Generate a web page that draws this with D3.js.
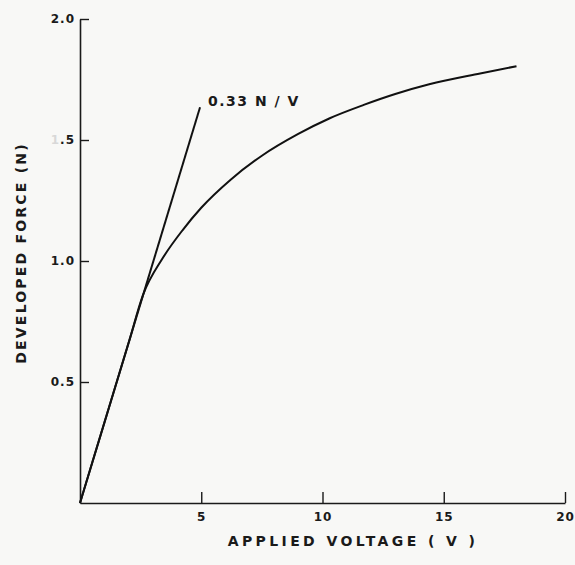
<html>
<head>
<script src="https://cdn.jsdelivr.net/npm/d3@7/dist/d3.min.js"></script>
<style>
  body { margin: 0; background: #f8f8f6; }
  svg { display: block; }
  .lbl { font-family: "DejaVu Sans", sans-serif; font-weight: bold; fill: #1a1a1a; }
</style>
</head>
<body>
<svg></svg>
<script>
// applied voltage (V) vs developed force (N)
var voltage = [0, 1, 2, 2.6, 3.4, 4.25, 5, 6.2, 7.5, 9, 10.3, 11.7, 13, 14.4, 16.5, 18];
var force   = [0, 0.33, 0.66, 0.86, 1.01, 1.13, 1.22, 1.335, 1.435, 1.525, 1.59, 1.645, 1.69, 1.73, 1.775, 1.805];

// tangent of the initial slope
var slopeV = [0, 4.95];
var slopeF = [0, 1.635];
var slopeLabel = "0.33 N / V";

var xTicks = [5, 10, 15, 20];
var yTicks = [0.5, 1.0, 1.5, 2.0];
var yTickLabels = ["0.5", "1.0", "1.5", "2.0"];

var W = 575, H = 565;
var svg = d3.select("svg").attr("width", W).attr("height", H);

var x = d3.scaleLinear().domain([0, 20]).range([80, 565]);
var y = d3.scaleLinear().domain([0, 2]).range([503, 19]);

// axes (ticks point inward)
var gx = svg.append("g").attr("transform", "translate(0," + y(0) + ")")
  .call(d3.axisBottom(x).tickValues(xTicks).tickSize(-11).tickSizeOuter(0).tickPadding(9));
var gy = svg.append("g").attr("transform", "translate(" + x(0) + ",0)")
  .call(d3.axisLeft(y).tickValues(yTicks).tickSize(-9).tickSizeOuter(0).tickPadding(5)
    .tickFormat(function(d, i){ return yTickLabels[i]; }));

[gx, gy].forEach(function(g){
  g.select(".domain").attr("stroke", "#1a1a1a").attr("stroke-width", 1.6);
  g.selectAll(".tick line").attr("stroke", "#1a1a1a").attr("stroke-width", 1.4);
  g.selectAll(".tick text").attr("class", "lbl").attr("font-size", 12)
    .attr("letter-spacing", 1).attr("fill", "#1a1a1a");
});
// the "1" of 1.5 is nearly washed out in the original
gy.selectAll(".tick text").filter(function(d){ return d === 1.5; })
  .text(null).call(function(t){
    t.append("tspan").attr("fill", "#d8d8d8").text("1");
    t.append("tspan").text(".5");
  });

// curve
var line = d3.line()
  .x(function(d){ return x(d[0]); })
  .y(function(d){ return y(d[1]); })
  .curve(d3.curveMonotoneX);

svg.append("path")
  .datum(d3.zip(voltage, force))
  .attr("d", line)
  .attr("fill", "none").attr("stroke", "#111").attr("stroke-width", 2);

svg.append("path")
  .datum(d3.zip(slopeV, slopeF))
  .attr("d", d3.line().x(function(d){ return x(d[0]); }).y(function(d){ return y(d[1]); }))
  .attr("fill", "none").attr("stroke", "#111").attr("stroke-width", 2);

svg.append("text").attr("class", "lbl")
  .attr("x", x(slopeV[1]) + 8).attr("y", y(slopeF[1]) - 1)
  .attr("font-size", 14).attr("letter-spacing", 1.5)
  .text(slopeLabel);

// axis titles
svg.append("text").attr("class", "lbl")
  .attr("x", 353).attr("y", 546).attr("text-anchor", "middle")
  .attr("font-size", 14).attr("letter-spacing", 3.4)
  .text("APPLIED VOLTAGE  ( V )");

svg.append("text").attr("class", "lbl")
  .attr("transform", "translate(26,253) rotate(-90)")
  .attr("text-anchor", "middle")
  .attr("font-size", 14).attr("letter-spacing", 2.2)
  .text("DEVELOPED FORCE (N)");
</script>
</body>
</html>
